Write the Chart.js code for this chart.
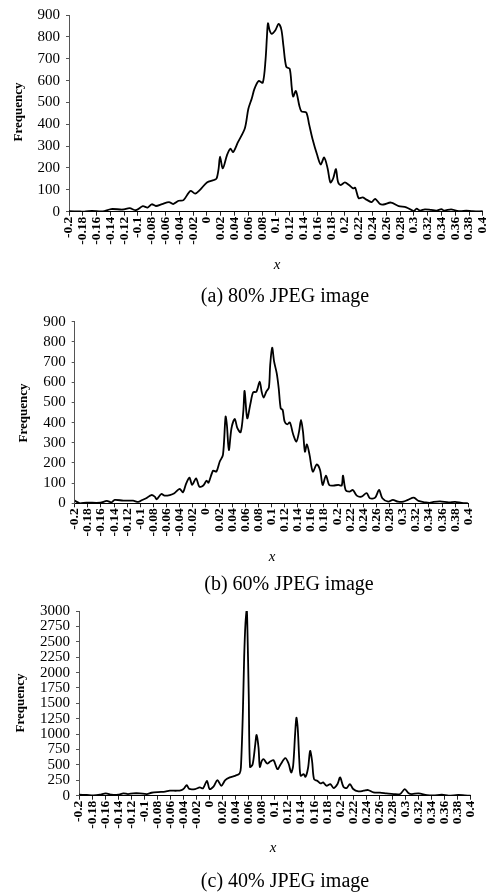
<!DOCTYPE html>
<html>
<head>
<meta charset="utf-8">
<script src="https://cdn.jsdelivr.net/npm/chart.js@4.4.1/dist/chart.umd.min.js"></script>
<style>
  body { margin: 0; background: #fff; }
  #page { position: relative; width: 500px; height: 894px; font-family: "Liberation Serif", "Times New Roman", serif; color: #000; }
  canvas { position: absolute; left: 0; }
  .ylab { position: absolute; font-weight: bold; font-size: 13px; white-space: nowrap; transform: translate(-50%, -50%) rotate(-90deg); }
  .xlab { position: absolute; font-style: italic; font-size: 15px; transform: translate(-50%, -50%); }
  .cap { position: absolute; font-size: 20px; white-space: nowrap; transform: translate(-50%, -50%); }
</style>
</head>
<body>
<div id="page">
  <canvas id="chartA" width="500" height="258" style="top:0px"></canvas>
  <canvas id="chartB" width="500" height="250" style="top:300px"></canvas>
  <canvas id="chartC" width="500" height="250" style="top:596px"></canvas>

  <div class="ylab" style="left:18px; top:112px">Frequency</div>
  <div class="xlab" style="left:277px; top:264px">x</div>
  <div class="cap" style="left:285px; top:295px">(a) 80% JPEG image</div>

  <div class="ylab" style="left:23px; top:413px">Frequency</div>
  <div class="xlab" style="left:272px; top:556px">x</div>
  <div class="cap" style="left:289px; top:583px">(b) 60% JPEG image</div>

  <div class="ylab" style="left:20px; top:703px">Frequency</div>
  <div class="xlab" style="left:273px; top:847px">x</div>
  <div class="cap" style="left:285px; top:880px">(c) 40% JPEG image</div>
</div>

<script>
// x axis tick labels (shared by all three panels)
const xTickLabels = ["-0.2", "-0.18", "-0.16", "-0.14", "-0.12", "-0.1", "-0.08", "-0.06", "-0.04", "-0.02",
    "0", "0.02", "0.04", "0.06", "0.08", "0.1", "0.12", "0.14", "0.16", "0.18", "0.2",
    "0.22", "0.24", "0.26", "0.28", "0.3", "0.32", "0.34", "0.36", "0.38", "0.4"];

// (a) 80% JPEG image
const xsA = [-0.200, -0.184, -0.179, -0.172, -0.160, -0.151, -0.139, -0.122, -0.112, -0.103, -0.093, -0.086,
    -0.080, -0.074, -0.065, -0.055, -0.049, -0.041, -0.034, -0.024, -0.017, -0.010, 0.000, 0.010, 0.014,
    0.017, 0.019, 0.023, 0.029, 0.034, 0.038, 0.045, 0.055, 0.060, 0.065, 0.069, 0.075, 0.081, 0.085,
    0.087, 0.0885, 0.091, 0.094, 0.099, 0.104, 0.108, 0.111, 0.115, 0.120, 0.123, 0.125, 0.129, 0.134,
    0.137, 0.144, 0.148, 0.153, 0.160, 0.165, 0.170, 0.175, 0.179, 0.183, 0.187, 0.190, 0.194, 0.200,
    0.206, 0.212, 0.215, 0.220, 0.226, 0.232, 0.239, 0.244, 0.251, 0.256, 0.267, 0.278, 0.289, 0.300,
    0.304, 0.309, 0.316, 0.325, 0.333, 0.340, 0.344, 0.354, 0.361, 0.368, 0.376, 0.385, 0.400];
const ysA = [2, 1, 0, 3, 3, 1, 12, 10, 16, 7, 25, 19,
    34, 26, 35, 44, 35, 50, 53, 95, 83, 100, 134, 145, 152,
    198, 252, 198, 258, 288, 273, 318, 382, 470, 518, 563, 598, 590, 696,
    801, 862, 829, 814, 829, 859, 832, 756, 663, 654, 568, 527, 552, 485,
    459, 454, 402, 334, 258, 216, 248, 198, 134, 152, 195, 137, 122, 134,
    122, 107, 110, 62, 65, 54, 44, 59, 35, 33, 42, 26, 20, 3,
    14, 5, 11, 8, 5, 12, 5, 11, 5, 2, 5, 2, 2];

// (b) 60% JPEG image
const xsB = [-0.200, -0.192, -0.182, -0.161, -0.151, -0.144, -0.139, -0.126, -0.111, -0.103, -0.098,
    -0.091, -0.083, -0.078, -0.075, -0.068, -0.063, -0.055, -0.048, -0.040, -0.035, -0.030, -0.025,
    -0.021, -0.015, -0.010, -0.004, 0.001, 0.004, 0.011, 0.016, 0.021, 0.026, 0.030, 0.032, 0.035,
    0.039, 0.044, 0.048, 0.053, 0.057, 0.059, 0.063, 0.068, 0.072, 0.077, 0.082, 0.085, 0.088, 0.092,
    0.096, 0.098, 0.101, 0.104, 0.108, 0.111, 0.114, 0.117, 0.120, 0.124, 0.128, 0.133, 0.138, 0.142,
    0.145, 0.148, 0.151, 0.154, 0.158, 0.163, 0.169, 0.174, 0.178, 0.183, 0.188, 0.194, 0.202, 0.207,
    0.209, 0.213, 0.219, 0.224, 0.230, 0.237, 0.245, 0.250, 0.258, 0.264, 0.269, 0.278, 0.285, 0.293,
    0.301, 0.308, 0.317, 0.324, 0.334, 0.341, 0.347, 0.357, 0.370, 0.380, 0.390, 0.400];
const ysB = [13, 0, 3, 3, 12, 5, 17, 13, 13, 7, 15,
    25, 41, 33, 20, 46, 38, 41, 50, 71, 55, 99, 127,
    91, 124, 83, 88, 112, 102, 162, 157, 206, 240, 429, 388, 264,
    372, 418, 372, 352, 454, 557, 421, 496, 550, 553, 603, 553, 524, 553,
    573, 685, 771, 702, 644, 570, 471, 463, 405, 391, 401, 342, 306, 355,
    413, 355, 256, 292, 240, 157, 193, 165, 91, 137, 91, 88, 91, 88,
    137, 66, 58, 66, 38, 33, 50, 25, 28, 66, 25, 8, 17, 8,
    8, 17, 28, 12, 5, 2, 7, 10, 5, 7, 2, 0];

// (c) 40% JPEG image
const xsC = [-0.200, -0.188, -0.178, -0.168, -0.159, -0.150, -0.140, -0.132, -0.125, -0.117, -0.107,
    -0.096, -0.089, -0.079, -0.068, -0.061, -0.050, -0.043, -0.039, -0.035, -0.031, -0.022, -0.015,
    -0.010, -0.004, 0.000, 0.006, 0.012, 0.018, 0.024, 0.031, 0.039, 0.046, 0.048, 0.051, 0.053, 0.055,
    0.057, 0.058, 0.060, 0.062, 0.066, 0.070, 0.072, 0.075, 0.077, 0.080, 0.083, 0.088, 0.093, 0.098,
    0.104, 0.109, 0.116, 0.121, 0.125, 0.128, 0.131, 0.133, 0.135, 0.1375, 0.1395, 0.144, 0.147, 0.151,
    0.154, 0.157, 0.160, 0.165, 0.170, 0.174, 0.179, 0.185, 0.190, 0.196, 0.200, 0.205, 0.210, 0.215,
    0.220, 0.228, 0.236, 0.243, 0.251, 0.261, 0.271, 0.282, 0.292, 0.299, 0.305, 0.310, 0.320, 0.333,
    0.343, 0.356, 0.366, 0.381, 0.391, 0.400];
const ysC = [16, 11, 5, 16, 38, 16, 16, 38, 27, 38, 38,
    27, 48, 59, 65, 81, 81, 92, 120, 172, 110, 108, 135,
    119, 242, 108, 146, 253, 162, 253, 297, 323, 361, 458, 1350, 2250, 2800,
    3016, 2700, 1650, 469, 512, 835, 986, 781, 469, 566, 593, 523, 555, 577,
    431, 512, 609, 523, 377, 485, 996, 1266, 1104, 566, 323, 350, 307, 458,
    727, 566, 269, 242, 199, 215, 162, 189, 124, 189, 297, 146, 124, 189,
    108, 70, 81, 92, 54, 49, 38, 27, 27, 108, 38, 27, 38, 11,
    5, 16, 0, 11, 5, 0];

const xTickValues = xTickLabels.map(Number);

function makeChart(id, xs, ys, yMax, yStep, box) {
    const canvas = document.getElementById(id);
    new Chart(canvas.getContext("2d"), {
        type: "line",
        data: {
            datasets: [{
                data: xs.map((x, i) => ({ x: x, y: ys[i] })),
                borderColor: "#000",
                borderWidth: 1.8,
                pointRadius: 0,
                tension: 0.3,
                fill: false
            }]
        },
        options: {
            responsive: false,
            animation: false,
            layout: { padding: { left: 0, right: box.right, top: box.top, bottom: 0 } },
            plugins: { legend: { display: false }, tooltip: { enabled: false } },
            scales: {
                x: {
                    type: "linear",
                    min: -0.2,
                    max: 0.4,
                    afterBuildTicks: scale => { scale.ticks = xTickValues.map(v => ({ value: v })); },
                    afterFit: scale => { scale.height = box.axisH; },
                    grid: { drawOnChartArea: false, drawTicks: true, tickLength: 4, color: "#222" },
                    border: { color: "#000", width: 1 },
                    ticks: {
                        autoSkip: false,
                        minRotation: 90,
                        maxRotation: 90,
                        padding: 1,
                        color: "#000",
                        font: { family: "Liberation Serif", size: 13.5, weight: "bold" },
                        callback: (v, i) => xTickLabels[i]
                    }
                },
                y: {
                    min: 0,
                    max: yMax,
                    afterFit: scale => { scale.width = box.left; },
                    grid: { drawOnChartArea: false, drawTicks: true, tickLength: 3, color: "#555" },
                    border: { color: "#555", width: 1 },
                    ticks: {
                        stepSize: yStep,
                        autoSkip: false,
                        padding: 6,
                        color: "#000",
                        font: { family: "Liberation Serif", size: 15 },
                        callback: v => String(v)
                    }
                }
            }
        }
    });
}

makeChart("chartA", xsA, ysA, 900, 100, { left: 69, right: 13, top: 13.3, axisH: 46.3 });
makeChart("chartB", xsB, ysB, 900, 100, { left: 74.7, right: 31.7, top: 21.7, axisH: 46.7 });
makeChart("chartC", xsC, ysC, 3000, 250, { left: 79, right: 29.3, top: 14, axisH: 50.3 });
</script>
</body>
</html>
